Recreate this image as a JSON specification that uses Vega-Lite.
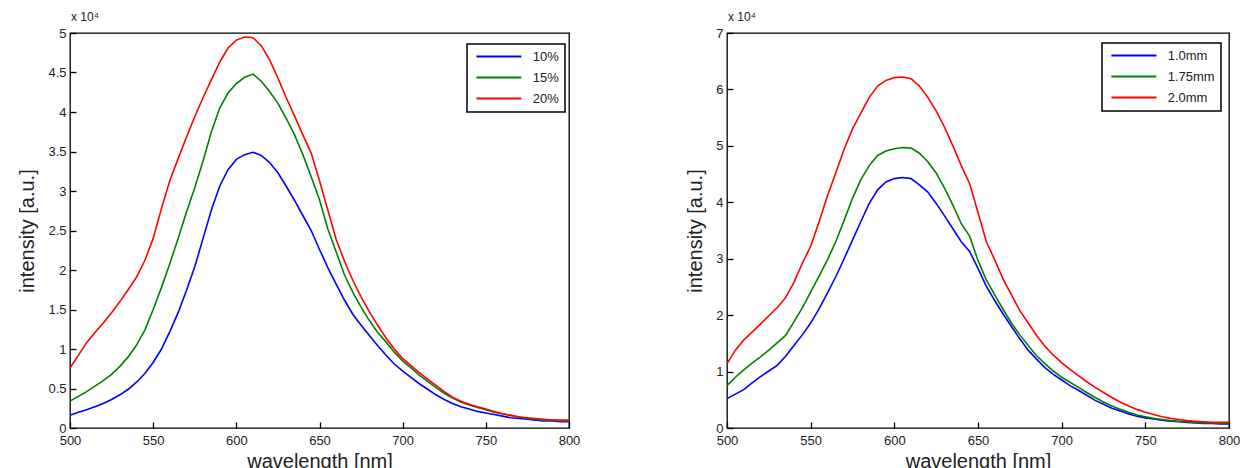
{
  "$schema": "https://vega.github.io/schema/vega-lite/v6.json",
  "background": "white",
  "padding": {"left": 17, "top": 10, "right": 0, "bottom": 0},
  "spacing": 104,
  "resolve": {"scale": {"color": "independent"}},
  "config": {
    "font": "Liberation Sans",
    "view": {"stroke": "black", "strokeWidth": 1.3},
    "title": {"anchor": "start", "frame": "group", "fontSize": 12, "fontWeight": "normal", "color": "#222", "offset": 3, "dx": 1},
    "axis": {
      "domain": false,
      "grid": false,
      "ticks": true,
      "zindex": 1,
      "offset": -6,
      "tickColor": "black",
      "tickOpacity": 1,
      "tickSize": 6,
      "tickWidth": 1.3,
      "labelFont": "Liberation Sans",
      "labelFontSize": 13,
      "labelColor": "#222",
      "labelFlush": false,
      "titleFont": "Liberation Sans",
      "titleFontSize": 20,
      "titleFontWeight": "normal",
      "titleColor": "#222"
    },
    "axisX": {"labelPadding": 6, "titlePadding": 4},
    "axisY": {"labelPadding": 4, "titlePadding": 10},
    "legend": {
      "strokeColor": "black",
      "padding": 6,
      "labelFont": "Liberation Sans",
      "labelFontSize": 13,
      "labelColor": "#222",
      "symbolStrokeWidth": 2,
      "symbolSize": 5.0625,
      "symbolOffset": 19.4,
      "labelOffset": 27.3,
      "rowPadding": 7
    }
  },
  "datasets": {
    "conc": [
      {"w":500,"s":"10%","i":1600},{"w":505,"s":"10%","i":2000},{"w":510,"s":"10%","i":2300},{"w":515,"s":"10%","i":2700},{"w":520,"s":"10%","i":3100},{"w":525,"s":"10%","i":3600},{"w":530,"s":"10%","i":4200},{"w":535,"s":"10%","i":4900},{"w":540,"s":"10%","i":5800},{"w":545,"s":"10%","i":6900},{"w":550,"s":"10%","i":8300},{"w":555,"s":"10%","i":10000},{"w":560,"s":"10%","i":12200},{"w":565,"s":"10%","i":14600},{"w":570,"s":"10%","i":17400},{"w":575,"s":"10%","i":20400},{"w":580,"s":"10%","i":24000},{"w":585,"s":"10%","i":27600},{"w":590,"s":"10%","i":30600},{"w":595,"s":"10%","i":32700},{"w":600,"s":"10%","i":34000},{"w":605,"s":"10%","i":34600},{"w":610,"s":"10%","i":34900},{"w":615,"s":"10%","i":34500},{"w":620,"s":"10%","i":33600},{"w":625,"s":"10%","i":32300},{"w":630,"s":"10%","i":30600},{"w":635,"s":"10%","i":28800},{"w":640,"s":"10%","i":26900},{"w":645,"s":"10%","i":25000},{"w":650,"s":"10%","i":22600},{"w":655,"s":"10%","i":20300},{"w":660,"s":"10%","i":18200},{"w":665,"s":"10%","i":16200},{"w":670,"s":"10%","i":14400},{"w":675,"s":"10%","i":13000},{"w":680,"s":"10%","i":11700},{"w":685,"s":"10%","i":10400},{"w":690,"s":"10%","i":9200},{"w":695,"s":"10%","i":8100},{"w":700,"s":"10%","i":7200},{"w":705,"s":"10%","i":6400},{"w":710,"s":"10%","i":5600},{"w":715,"s":"10%","i":4900},{"w":720,"s":"10%","i":4200},{"w":725,"s":"10%","i":3600},{"w":730,"s":"10%","i":3100},{"w":735,"s":"10%","i":2700},{"w":740,"s":"10%","i":2400},{"w":745,"s":"10%","i":2100},{"w":750,"s":"10%","i":1900},{"w":755,"s":"10%","i":1700},{"w":760,"s":"10%","i":1500},{"w":765,"s":"10%","i":1300},{"w":770,"s":"10%","i":1200},{"w":775,"s":"10%","i":1100},{"w":780,"s":"10%","i":1000},{"w":785,"s":"10%","i":900},{"w":790,"s":"10%","i":900},{"w":795,"s":"10%","i":800},{"w":800,"s":"10%","i":800},
      {"w":500,"s":"15%","i":3400},{"w":505,"s":"15%","i":4000},{"w":510,"s":"15%","i":4600},{"w":515,"s":"15%","i":5300},{"w":520,"s":"15%","i":6000},{"w":525,"s":"15%","i":6800},{"w":530,"s":"15%","i":7800},{"w":535,"s":"15%","i":9000},{"w":540,"s":"15%","i":10500},{"w":545,"s":"15%","i":12400},{"w":550,"s":"15%","i":15000},{"w":555,"s":"15%","i":17800},{"w":560,"s":"15%","i":20800},{"w":565,"s":"15%","i":24000},{"w":570,"s":"15%","i":27300},{"w":575,"s":"15%","i":30400},{"w":580,"s":"15%","i":33800},{"w":585,"s":"15%","i":37500},{"w":590,"s":"15%","i":40500},{"w":595,"s":"15%","i":42400},{"w":600,"s":"15%","i":43600},{"w":605,"s":"15%","i":44400},{"w":610,"s":"15%","i":44800},{"w":615,"s":"15%","i":43900},{"w":620,"s":"15%","i":42600},{"w":625,"s":"15%","i":41100},{"w":630,"s":"15%","i":39200},{"w":635,"s":"15%","i":37100},{"w":640,"s":"15%","i":34600},{"w":645,"s":"15%","i":31800},{"w":650,"s":"15%","i":28900},{"w":655,"s":"15%","i":25200},{"w":660,"s":"15%","i":22300},{"w":665,"s":"15%","i":19400},{"w":670,"s":"15%","i":17200},{"w":675,"s":"15%","i":15300},{"w":680,"s":"15%","i":13600},{"w":685,"s":"15%","i":12100},{"w":690,"s":"15%","i":10900},{"w":695,"s":"15%","i":9600},{"w":700,"s":"15%","i":8500},{"w":705,"s":"15%","i":7600},{"w":710,"s":"15%","i":6700},{"w":715,"s":"15%","i":5900},{"w":720,"s":"15%","i":5100},{"w":725,"s":"15%","i":4400},{"w":730,"s":"15%","i":3800},{"w":735,"s":"15%","i":3300},{"w":740,"s":"15%","i":2900},{"w":745,"s":"15%","i":2600},{"w":750,"s":"15%","i":2300},{"w":755,"s":"15%","i":2000},{"w":760,"s":"15%","i":1800},{"w":765,"s":"15%","i":1600},{"w":770,"s":"15%","i":1400},{"w":775,"s":"15%","i":1200},{"w":780,"s":"15%","i":1100},{"w":785,"s":"15%","i":1000},{"w":790,"s":"15%","i":1000},{"w":795,"s":"15%","i":900},{"w":800,"s":"15%","i":900},
      {"w":500,"s":"20%","i":7600},{"w":505,"s":"20%","i":9200},{"w":510,"s":"20%","i":10800},{"w":515,"s":"20%","i":12100},{"w":520,"s":"20%","i":13300},{"w":525,"s":"20%","i":14600},{"w":530,"s":"20%","i":16000},{"w":535,"s":"20%","i":17500},{"w":540,"s":"20%","i":19100},{"w":545,"s":"20%","i":21200},{"w":550,"s":"20%","i":24000},{"w":555,"s":"20%","i":27800},{"w":560,"s":"20%","i":31300},{"w":565,"s":"20%","i":34100},{"w":570,"s":"20%","i":36800},{"w":575,"s":"20%","i":39400},{"w":580,"s":"20%","i":41800},{"w":585,"s":"20%","i":44100},{"w":590,"s":"20%","i":46300},{"w":595,"s":"20%","i":48100},{"w":600,"s":"20%","i":49100},{"w":605,"s":"20%","i":49500},{"w":610,"s":"20%","i":49400},{"w":615,"s":"20%","i":48400},{"w":620,"s":"20%","i":46600},{"w":625,"s":"20%","i":44300},{"w":630,"s":"20%","i":41800},{"w":635,"s":"20%","i":39500},{"w":640,"s":"20%","i":37100},{"w":645,"s":"20%","i":34800},{"w":650,"s":"20%","i":31300},{"w":655,"s":"20%","i":27600},{"w":660,"s":"20%","i":23900},{"w":665,"s":"20%","i":21100},{"w":670,"s":"20%","i":18700},{"w":675,"s":"20%","i":16600},{"w":680,"s":"20%","i":14700},{"w":685,"s":"20%","i":13000},{"w":690,"s":"20%","i":11400},{"w":695,"s":"20%","i":10000},{"w":700,"s":"20%","i":8800},{"w":705,"s":"20%","i":7900},{"w":710,"s":"20%","i":7000},{"w":715,"s":"20%","i":6200},{"w":720,"s":"20%","i":5400},{"w":725,"s":"20%","i":4600},{"w":730,"s":"20%","i":3900},{"w":735,"s":"20%","i":3400},{"w":740,"s":"20%","i":3000},{"w":745,"s":"20%","i":2700},{"w":750,"s":"20%","i":2400},{"w":755,"s":"20%","i":2100},{"w":760,"s":"20%","i":1800},{"w":765,"s":"20%","i":1600},{"w":770,"s":"20%","i":1400},{"w":775,"s":"20%","i":1300},{"w":780,"s":"20%","i":1200},{"w":785,"s":"20%","i":1100},{"w":790,"s":"20%","i":1000},{"w":795,"s":"20%","i":1000},{"w":800,"s":"20%","i":1000}
    ],
    "thick": [
      {"w":500,"s":"1.0mm","i":5200},{"w":505,"s":"1.0mm","i":6000},{"w":510,"s":"1.0mm","i":6800},{"w":515,"s":"1.0mm","i":8000},{"w":520,"s":"1.0mm","i":9100},{"w":525,"s":"1.0mm","i":10100},{"w":530,"s":"1.0mm","i":11100},{"w":535,"s":"1.0mm","i":12700},{"w":540,"s":"1.0mm","i":14600},{"w":545,"s":"1.0mm","i":16500},{"w":550,"s":"1.0mm","i":18600},{"w":555,"s":"1.0mm","i":21100},{"w":560,"s":"1.0mm","i":23900},{"w":565,"s":"1.0mm","i":26800},{"w":570,"s":"1.0mm","i":30000},{"w":575,"s":"1.0mm","i":33300},{"w":580,"s":"1.0mm","i":36600},{"w":585,"s":"1.0mm","i":39800},{"w":590,"s":"1.0mm","i":42200},{"w":595,"s":"1.0mm","i":43600},{"w":600,"s":"1.0mm","i":44200},{"w":605,"s":"1.0mm","i":44400},{"w":610,"s":"1.0mm","i":44200},{"w":615,"s":"1.0mm","i":43100},{"w":620,"s":"1.0mm","i":41800},{"w":625,"s":"1.0mm","i":39800},{"w":630,"s":"1.0mm","i":37600},{"w":635,"s":"1.0mm","i":35300},{"w":640,"s":"1.0mm","i":33000},{"w":645,"s":"1.0mm","i":31300},{"w":650,"s":"1.0mm","i":28300},{"w":655,"s":"1.0mm","i":25100},{"w":660,"s":"1.0mm","i":22600},{"w":665,"s":"1.0mm","i":20200},{"w":670,"s":"1.0mm","i":18000},{"w":675,"s":"1.0mm","i":15800},{"w":680,"s":"1.0mm","i":13800},{"w":685,"s":"1.0mm","i":12200},{"w":690,"s":"1.0mm","i":10700},{"w":695,"s":"1.0mm","i":9500},{"w":700,"s":"1.0mm","i":8500},{"w":705,"s":"1.0mm","i":7500},{"w":710,"s":"1.0mm","i":6700},{"w":715,"s":"1.0mm","i":5800},{"w":720,"s":"1.0mm","i":4900},{"w":725,"s":"1.0mm","i":4200},{"w":730,"s":"1.0mm","i":3500},{"w":735,"s":"1.0mm","i":3000},{"w":740,"s":"1.0mm","i":2500},{"w":745,"s":"1.0mm","i":2100},{"w":750,"s":"1.0mm","i":1800},{"w":755,"s":"1.0mm","i":1600},{"w":760,"s":"1.0mm","i":1400},{"w":765,"s":"1.0mm","i":1200},{"w":770,"s":"1.0mm","i":1100},{"w":775,"s":"1.0mm","i":1000},{"w":780,"s":"1.0mm","i":900},{"w":785,"s":"1.0mm","i":800},{"w":790,"s":"1.0mm","i":800},{"w":795,"s":"1.0mm","i":700},{"w":800,"s":"1.0mm","i":700},
      {"w":500,"s":"1.75mm","i":7500},{"w":505,"s":"1.75mm","i":9000},{"w":510,"s":"1.75mm","i":10300},{"w":515,"s":"1.75mm","i":11500},{"w":520,"s":"1.75mm","i":12600},{"w":525,"s":"1.75mm","i":13800},{"w":530,"s":"1.75mm","i":15100},{"w":535,"s":"1.75mm","i":16400},{"w":540,"s":"1.75mm","i":18800},{"w":545,"s":"1.75mm","i":21300},{"w":550,"s":"1.75mm","i":24100},{"w":555,"s":"1.75mm","i":26900},{"w":560,"s":"1.75mm","i":29800},{"w":565,"s":"1.75mm","i":33000},{"w":570,"s":"1.75mm","i":36800},{"w":575,"s":"1.75mm","i":40700},{"w":580,"s":"1.75mm","i":44000},{"w":585,"s":"1.75mm","i":46500},{"w":590,"s":"1.75mm","i":48300},{"w":595,"s":"1.75mm","i":49100},{"w":600,"s":"1.75mm","i":49500},{"w":605,"s":"1.75mm","i":49700},{"w":610,"s":"1.75mm","i":49600},{"w":615,"s":"1.75mm","i":48700},{"w":620,"s":"1.75mm","i":47200},{"w":625,"s":"1.75mm","i":45200},{"w":630,"s":"1.75mm","i":42500},{"w":635,"s":"1.75mm","i":39500},{"w":640,"s":"1.75mm","i":36200},{"w":645,"s":"1.75mm","i":34000},{"w":650,"s":"1.75mm","i":29700},{"w":655,"s":"1.75mm","i":26200},{"w":660,"s":"1.75mm","i":23600},{"w":665,"s":"1.75mm","i":21000},{"w":670,"s":"1.75mm","i":18600},{"w":675,"s":"1.75mm","i":16500},{"w":680,"s":"1.75mm","i":14600},{"w":685,"s":"1.75mm","i":12800},{"w":690,"s":"1.75mm","i":11400},{"w":695,"s":"1.75mm","i":10100},{"w":700,"s":"1.75mm","i":9000},{"w":705,"s":"1.75mm","i":8100},{"w":710,"s":"1.75mm","i":7200},{"w":715,"s":"1.75mm","i":6300},{"w":720,"s":"1.75mm","i":5400},{"w":725,"s":"1.75mm","i":4600},{"w":730,"s":"1.75mm","i":3900},{"w":735,"s":"1.75mm","i":3300},{"w":740,"s":"1.75mm","i":2800},{"w":745,"s":"1.75mm","i":2300},{"w":750,"s":"1.75mm","i":2000},{"w":755,"s":"1.75mm","i":1700},{"w":760,"s":"1.75mm","i":1500},{"w":765,"s":"1.75mm","i":1300},{"w":770,"s":"1.75mm","i":1200},{"w":775,"s":"1.75mm","i":1100},{"w":780,"s":"1.75mm","i":1000},{"w":785,"s":"1.75mm","i":900},{"w":790,"s":"1.75mm","i":900},{"w":795,"s":"1.75mm","i":800},{"w":800,"s":"1.75mm","i":800},
      {"w":500,"s":"2.0mm","i":11400},{"w":505,"s":"2.0mm","i":13800},{"w":510,"s":"2.0mm","i":15600},{"w":515,"s":"2.0mm","i":17000},{"w":520,"s":"2.0mm","i":18400},{"w":525,"s":"2.0mm","i":19900},{"w":530,"s":"2.0mm","i":21300},{"w":535,"s":"2.0mm","i":23100},{"w":540,"s":"2.0mm","i":25800},{"w":545,"s":"2.0mm","i":29200},{"w":550,"s":"2.0mm","i":32200},{"w":555,"s":"2.0mm","i":36500},{"w":560,"s":"2.0mm","i":41100},{"w":565,"s":"2.0mm","i":45200},{"w":570,"s":"2.0mm","i":49400},{"w":575,"s":"2.0mm","i":53000},{"w":580,"s":"2.0mm","i":55800},{"w":585,"s":"2.0mm","i":58600},{"w":590,"s":"2.0mm","i":60600},{"w":595,"s":"2.0mm","i":61600},{"w":600,"s":"2.0mm","i":62100},{"w":605,"s":"2.0mm","i":62200},{"w":610,"s":"2.0mm","i":61900},{"w":615,"s":"2.0mm","i":60600},{"w":620,"s":"2.0mm","i":58600},{"w":625,"s":"2.0mm","i":56200},{"w":630,"s":"2.0mm","i":53300},{"w":635,"s":"2.0mm","i":50000},{"w":640,"s":"2.0mm","i":46500},{"w":645,"s":"2.0mm","i":43300},{"w":650,"s":"2.0mm","i":38200},{"w":655,"s":"2.0mm","i":33000},{"w":660,"s":"2.0mm","i":29800},{"w":665,"s":"2.0mm","i":26400},{"w":670,"s":"2.0mm","i":23600},{"w":675,"s":"2.0mm","i":20800},{"w":680,"s":"2.0mm","i":18600},{"w":685,"s":"2.0mm","i":16400},{"w":690,"s":"2.0mm","i":14500},{"w":695,"s":"2.0mm","i":12900},{"w":700,"s":"2.0mm","i":11600},{"w":705,"s":"2.0mm","i":10400},{"w":710,"s":"2.0mm","i":9300},{"w":715,"s":"2.0mm","i":8200},{"w":720,"s":"2.0mm","i":7200},{"w":725,"s":"2.0mm","i":6300},{"w":730,"s":"2.0mm","i":5400},{"w":735,"s":"2.0mm","i":4600},{"w":740,"s":"2.0mm","i":3900},{"w":745,"s":"2.0mm","i":3300},{"w":750,"s":"2.0mm","i":2800},{"w":755,"s":"2.0mm","i":2400},{"w":760,"s":"2.0mm","i":2000},{"w":765,"s":"2.0mm","i":1700},{"w":770,"s":"2.0mm","i":1500},{"w":775,"s":"2.0mm","i":1300},{"w":780,"s":"2.0mm","i":1200},{"w":785,"s":"2.0mm","i":1100},{"w":790,"s":"2.0mm","i":1000},{"w":795,"s":"2.0mm","i":1000},{"w":800,"s":"2.0mm","i":1000}
    ]
  },
  "hconcat": [
    {
      "title": "x 10⁴",
      "width": 499,
      "height": 395,
      "data": {"name": "conc"},
      "mark": {"type": "line", "strokeWidth": 1.6},
      "encoding": {
        "x": {"field": "w", "type": "quantitative", "scale": {"domain": [500, 800], "nice": false, "zero": false},
              "axis": {"values": [500, 550, 600, 650, 700, 750, 800], "title": "wavelength [nm]", "ticks": true}},
        "y": {"field": "i", "type": "quantitative", "scale": {"domain": [0, 50000], "nice": false},
              "axis": {"values": [0, 5000, 10000, 15000, 20000, 25000, 30000, 35000, 40000, 45000, 50000], "labelExpr": "datum.value / 10000", "title": "intensity [a.u.]", "ticks": true}},
        "color": {"field": "s", "type": "nominal",
                  "scale": {"domain": ["10%", "15%", "20%"], "range": ["#0000ff", "#008000", "#ff0000"]},
                  "legend": {"title": null, "orient": "none", "legendX": 397, "legendY": 11, "symbolType": "M-20,0L20,0",
                             "labelExpr": "datum.label + '     '",
                             "encode": {"legend": {"update": {"strokeWidth": {"value": 1.5}}}}}}
      }
    },
    {
      "title": "x 10⁴",
      "width": 502,
      "height": 395,
      "data": {"name": "thick"},
      "mark": {"type": "line", "strokeWidth": 1.6},
      "encoding": {
        "x": {"field": "w", "type": "quantitative", "scale": {"domain": [500, 800], "nice": false, "zero": false},
              "axis": {"values": [500, 550, 600, 650, 700, 750, 800], "title": "wavelength [nm]", "ticks": true}},
        "y": {"field": "i", "type": "quantitative", "scale": {"domain": [0, 70000], "nice": false},
              "axis": {"values": [0, 10000, 20000, 30000, 40000, 50000, 60000, 70000], "labelExpr": "datum.value / 10000", "title": "intensity [a.u.]", "ticks": true}},
        "color": {"field": "s", "type": "nominal",
                  "scale": {"domain": ["1.0mm", "1.75mm", "2.0mm"], "range": ["#0000ff", "#008000", "#ff0000"]},
                  "legend": {"title": null, "orient": "none", "legendX": 375, "legendY": 10, "symbolType": "M-20,0L20,0",
                             "labelExpr": "datum.label + '    '",
                             "encode": {"legend": {"update": {"strokeWidth": {"value": 1.5}}}}}}
      }
    }
  ]
}
